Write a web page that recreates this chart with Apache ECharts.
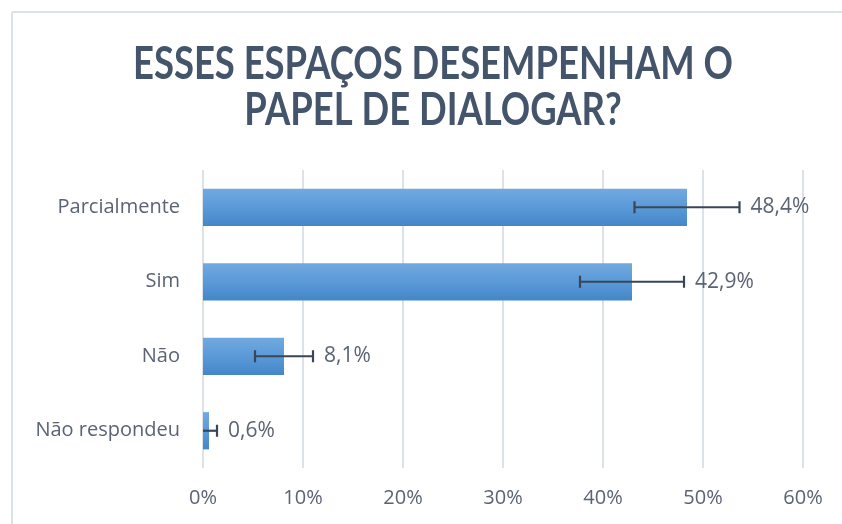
<!DOCTYPE html>
<html>
<head>
<meta charset="utf-8">
<script src="https://cdn.jsdelivr.net/npm/echarts@6/dist/echarts.min.js"></script>
<style>
html,body{margin:0;padding:0;background:#fff;}
#chart{width:842px;height:524px;}
</style>
</head>
<body>
<div id="chart"></div>
<script>
var titleLines = ['ESSES ESPAÇOS DESEMPENHAM O', 'PAPEL DE DIALOGAR?'];
var categories = ['Parcialmente', 'Sim', 'Não', 'Não respondeu'];
var values = [48.4, 42.9, 8.1, 0.6];
var errors = [5.25, 5.2, 2.9, 0.8];
var xTicks = {min: 0, max: 60, interval: 10};

var textColor = '#5A6472';
var titleFont = 'bold 45px Lato, "Open Sans", sans-serif';
var chart = echarts.init(document.getElementById('chart'), null, {renderer: 'canvas'});

function fmt(v) { return v.toFixed(1).replace('.', ',') + '%'; }

// condense the title so that its first line is about 600px wide, like the reference
var mctx = document.createElement('canvas').getContext('2d');
mctx.font = titleFont;
var titleScale = 600 / mctx.measureText(titleLines[0]).width;

var errData = values.map(function (v, i) { return [i, v, errors[i]]; });

var option = {
  animation: false,
  backgroundColor: '#ffffff',
  graphic: [
    {type: 'line', shape: {x1: 12, y1: 12, x2: 842, y2: 12}, style: {stroke: '#DDE1E9', lineWidth: 2}, silent: true},
    {type: 'line', shape: {x1: 12, y1: 12, x2: 12, y2: 524}, style: {stroke: '#DDE1E9', lineWidth: 2}, silent: true},
    {type: 'text', x: 433, y: 64, scaleX: titleScale, style: {text: titleLines[0], font: titleFont, fill: '#44546A', align: 'center', verticalAlign: 'middle'}},
    {type: 'text', x: 433, y: 110, scaleX: titleScale, style: {text: titleLines[1], font: titleFont, fill: '#44546A', align: 'center', verticalAlign: 'middle'}}
  ],
  grid: {left: 203, top: 170, width: 600, height: 298, containLabel: false},
  xAxis: {
    type: 'value',
    min: xTicks.min,
    max: xTicks.max,
    interval: xTicks.interval,
    axisLine: {show: false},
    axisTick: {show: false},
    axisLabel: {
      formatter: '{value}%',
      margin: 20,
      fontFamily: '"Open Sans", sans-serif',
      fontSize: 20,
      color: textColor
    },
    splitLine: {show: true, lineStyle: {color: '#DDE2EA', width: 2}}
  },
  yAxis: {
    type: 'category',
    data: categories,
    inverse: true,
    axisLine: {show: false},
    axisTick: {show: false},
    axisLabel: {
      margin: 23,
      fontFamily: '"Open Sans", sans-serif',
      fontSize: 20,
      color: textColor
    },
    splitLine: {show: false}
  },
  series: [
    {
      type: 'bar',
      data: values,
      barWidth: '50%',
      itemStyle: {
        color: new echarts.graphic.LinearGradient(0, 0, 0, 1, [
          {offset: 0, color: '#72A9DF'},
          {offset: 0.5, color: '#5A9AD8'},
          {offset: 1, color: '#4586C8'}
        ])
      },
      z: 2
    },
    {
      type: 'custom',
      data: errData,
      encode: {x: 1, y: 0},
      z: 5,
      renderItem: function (params, api) {
        var cat = api.value(0);
        var v = api.value(1);
        var e = api.value(2);
        var lo = Math.max(0, v - e);
        var hi = v + e;
        var pLo = api.coord([lo, cat]);
        var pHi = api.coord([hi, cat]);
        var cap = 6;
        var st = {stroke: '#3A4657', lineWidth: 2.2};
        var children = [
          {type: 'line', shape: {x1: pLo[0], y1: pLo[1], x2: pHi[0], y2: pHi[1]}, style: st},
          {type: 'line', shape: {x1: pHi[0], y1: pHi[1] - cap, x2: pHi[0], y2: pHi[1] + cap}, style: st}
        ];
        if (v - e >= 0) {
          children.push({type: 'line', shape: {x1: pLo[0], y1: pLo[1] - cap, x2: pLo[0], y2: pLo[1] + cap}, style: st});
        }
        children.push({
          type: 'text',
          style: {
            text: fmt(v),
            x: pHi[0] + 11,
            y: pHi[1],
            verticalAlign: 'middle',
            font: '21px "Open Sans", sans-serif',
            fill: textColor
          }
        });
        return {type: 'group', children: children};
      }
    }
  ]
};
chart.setOption(option);
</script>
</body>
</html>
